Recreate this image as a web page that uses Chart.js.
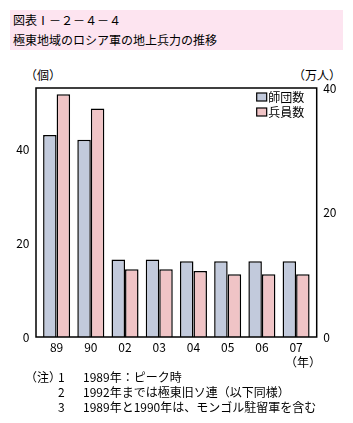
<!DOCTYPE html>
<html>
<head>
<meta charset="utf-8">
<script src="https://cdn.jsdelivr.net/npm/chart.js@4/dist/chart.umd.min.js"></script>
<style>
  body { margin: 0; background: #fff; font-family: 'Noto Sans CJK JP', sans-serif; font-size: 12px; color: #000; }
  #wrap { position: relative; width: 353px; height: 423px; overflow: hidden; }
  .t { position: absolute; white-space: nowrap; line-height: 14px; }
  #band { position: absolute; left: 10px; top: 10px; width: 333px; height: 40px; background: #fde4f0; }
  canvas { position: absolute; left: 0; top: 60px; }
</style>
</head>
<body>
<div id="wrap">
  <div id="band"></div>
  <div class="t" style="left:13px;top:13px">図表Ⅰ－２－４－４</div>
  <div class="t" style="left:13px;top:33px">極東地域のロシア軍の地上兵力の推移</div>
  <div class="t" style="left:25px;top:68px">（個）</div>
  <div class="t" style="left:293px;top:68px">（万人）</div>
  <canvas id="chart" width="353" height="310"></canvas>
  <div class="t" style="left:285px;top:355px">（年）</div>
  <div class="t" style="left:25px;top:370px">（注）</div>
  <div class="t" style="left:58px;top:370px">1</div>
  <div class="t" style="left:83px;top:370px">1989年：ピーク時</div>
  <div class="t" style="left:58px;top:385px">2</div>
  <div class="t" style="left:83px;top:385px">1992年までは極東旧ソ連（以下同様）</div>
  <div class="t" style="left:58px;top:400px">3</div>
  <div class="t" style="left:83px;top:400px">1989年と1990年は、モンゴル駐留軍を含む</div>
</div>
<script>
const years = ['89', '90', '02', '03', '04', '05', '06', '07'];
const divisions = [43, 42, 16.5, 16.5, 16.1, 16.1, 16.1, 16.1];   // 師団数（個）
const troops = [39, 36.7, 10.9, 10.9, 10.6, 10.1, 10.1, 10.1];    // 兵員数（万人）
const leftTicks = [0, 20, 40];
const rightTicks = [0, 20, 40];

const font = { family: "'Noto Sans CJK JP', sans-serif", size: 12 };

// frame around the plot, a bit wider than the bar area
const framePlugin = {
  id: 'frame',
  afterDraw(chart) {
    const a = chart.chartArea;
    const ctx = chart.ctx;
    ctx.save();
    ctx.strokeStyle = '#000';
    ctx.lineWidth = 1.5;
    ctx.strokeRect(a.left - 3.5, a.top, a.width + 7, a.height);
    ctx.restore();
  }
};

// legend drawn inside the top right corner of the plot
const legendPlugin = {
  id: 'innerLegend',
  afterDraw(chart) {
    const a = chart.chartArea;
    const ctx = chart.ctx;
    ctx.save();
    ctx.font = '12px ' + font.family;
    ctx.textBaseline = 'middle';
    chart.data.datasets.forEach((ds, i) => {
      const y = a.top + 9 + i * 15;
      ctx.fillStyle = ds.backgroundColor;
      ctx.fillRect(a.right - 56.5, y - 4, 10, 8);
      ctx.strokeStyle = '#000';
      ctx.lineWidth = 1.2;
      ctx.strokeRect(a.right - 56.5, y - 4, 10, 8);
      ctx.fillStyle = '#000';
      ctx.fillText(ds.label, a.right - 45, y + 0.5);
    });
    ctx.restore();
  }
};

new Chart(document.getElementById('chart'), {
  type: 'bar',
  data: {
    labels: years,
    datasets: [
      {
        label: '師団数',
        data: divisions,
        yAxisID: 'y',
        backgroundColor: '#c2cadc',
        borderColor: '#000',
        borderWidth: 1.5
      },
      {
        label: '兵員数',
        data: troops,
        yAxisID: 'y1',
        backgroundColor: '#f0c4c6',
        borderColor: '#000',
        borderWidth: 1.5
      }
    ]
  },
  options: {
    responsive: false,
    animation: false,
    layout: { padding: { top: 28, left: 0, right: 0 } },
    datasets: { bar: { barPercentage: 1, categoryPercentage: 0.79 } },
    plugins: { legend: { display: false }, tooltip: { enabled: false } },
    scales: {
      x: {
        grid: { display: false, drawTicks: false },
        border: { display: false },
        ticks: { color: '#000', font: font, padding: 3 },
        afterFit(scale) { scale.height = 33; }
      },
      y: {
        position: 'left',
        min: 0,
        max: 53,
        grid: { display: false, drawTicks: false },
        border: { display: false },
        ticks: { color: '#000', font: font, padding: 10 },
        afterBuildTicks(scale) { scale.ticks = leftTicks.map(v => ({ value: v })); },
        afterFit(scale) { scale.width = 39.5; }
      },
      y1: {
        position: 'right',
        min: 0,
        max: 40,
        grid: { display: false, drawTicks: false },
        border: { display: false },
        ticks: { color: '#000', font: font, padding: 10 },
        afterBuildTicks(scale) { scale.ticks = rightTicks.map(v => ({ value: v })); },
        afterFit(scale) { scale.width = 39.8; }
      }
    }
  },
  plugins: [framePlugin, legendPlugin]
});
</script>
</body>
</html>
